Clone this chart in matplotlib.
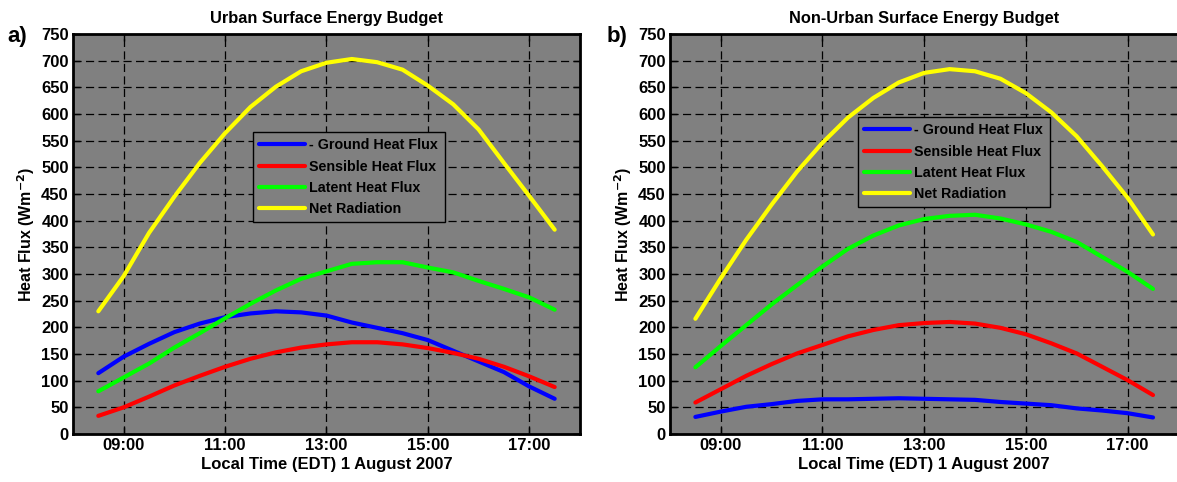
import numpy as np
import matplotlib
matplotlib.use("Agg")
import matplotlib.pyplot as plt

# ---------------- data ----------------
hours = [8.5, 9.0, 9.5, 10.0, 10.5, 11.0, 11.5, 12.0, 12.5, 13.0,
         13.5, 14.0, 14.5, 15.0, 15.5, 16.0, 16.5, 17.0, 17.5]

urban_ground = [114, 145, 169, 191, 207, 219, 226, 230, 228, 222,
                209, 199, 189, 176, 156, 136, 116, 89, 66]
urban_sensible = [34, 50, 70, 91, 109, 126, 141, 153, 162, 168,
                  172, 172, 168, 161, 152, 141, 126, 108, 88]
urban_latent = [80, 106, 132, 162, 189, 217, 244, 269, 291, 305,
                319, 322, 322, 312, 303, 287, 272, 256, 233]
urban_netrad = [230, 296, 377, 445, 508, 564, 613, 651, 680, 696,
                703, 697, 683, 653, 618, 571, 508, 446, 383]

rural_ground = [32, 42, 51, 56, 62, 65, 65, 66, 67, 66,
                65, 64, 60, 57, 54, 48, 44, 39, 31]
rural_sensible = [59, 84, 109, 131, 151, 167, 183, 195, 204, 208,
                  210, 207, 199, 187, 170, 151, 126, 101, 73]
rural_latent = [125, 165, 204, 243, 279, 314, 347, 372, 391, 403,
                409, 411, 404, 393, 379, 360, 332, 304, 272]
rural_netrad = [216, 292, 364, 430, 492, 546, 593, 630, 659, 677,
                684, 680, 666, 639, 603, 558, 502, 443, 374]

series_names = ["- Ground Heat Flux", "Sensible Heat Flux",
                "Latent Heat Flux", "Net Radiation"]
series_colors = ["#0000ff", "#ff0000", "#00ff00", "#ffff00"]
xtick_vals = [9, 11, 13, 15, 17]
xtick_labels = ["09:00", "11:00", "13:00", "15:00", "17:00"]

panels = [
    ("a)", "Urban Surface Energy Budget",
     [urban_ground, urban_sensible, urban_latent, urban_netrad],
     [0.0620, 0.0996, 0.4308, 0.830], (0.355, 0.755), 0.006),
    ("b)", "Non-Urban Surface Energy Budget",
     [rural_ground, rural_sensible, rural_latent, rural_netrad],
     [0.5692, 0.0996, 0.4320, 0.830], (0.3696, 0.7925), 0.5157),
]

plt.rcParams['font.family'] = ['Liberation Sans', 'DejaVu Sans']
plt.rcParams['font.weight'] = 'bold'

fig = plt.figure(figsize=(11.77, 4.82), dpi=100)

for tag, title, data, rect, leg_pos, tag_x in panels:
    ax = fig.add_axes(rect)
    ax.set_facecolor("#808080")

    for vals, name, col in zip(data, series_names, series_colors):
        ax.plot(hours, vals, color=col, lw=3, label=name,
                solid_capstyle="round")

    ax.set_xlim(8, 18)
    ax.set_ylim(0, 750)
    ax.set_yticks(np.arange(0, 751, 50))
    ax.set_xticks(xtick_vals)
    ax.set_xticklabels(xtick_labels)

    ax.grid(True, color="black", linestyle=(0, (6.5, 3.5)), linewidth=0.9)
    ax.tick_params(direction="in", top=True, right=True, length=5,
                   width=1, labelsize=12, pad=3)
    for lbl in ax.get_xticklabels() + ax.get_yticklabels():
        lbl.set_fontweight("bold")
    for sp in ax.spines.values():
        sp.set_linewidth(2)

    ax.set_title(title, fontsize=11.8, fontweight="bold", pad=8)
    ax.set_xlabel("Local Time (EDT) 1 August 2007", fontsize=12,
                  fontweight="bold", labelpad=3)
    ax.set_ylabel("Heat Flux (Wm$^{\\mathbf{-2}}$)", fontsize=11.5,
                  fontweight="bold", labelpad=3)

    fig.text(tag_x, 0.925, tag, fontsize=16, fontweight="bold",
             ha="left", va="center")

    leg = ax.legend(loc="upper left", bbox_to_anchor=leg_pos,
                    fancybox=False, facecolor="#808080", edgecolor="black",
                    framealpha=1, fontsize=10.3, handlelength=3.2,
                    handletextpad=0.3, borderpad=0.45, labelspacing=0.5,
                    borderaxespad=0)
    leg.get_frame().set_linewidth(1)
    for t in leg.get_texts():
        t.set_fontweight("bold")

fig.savefig("out.png", dpi=100)
